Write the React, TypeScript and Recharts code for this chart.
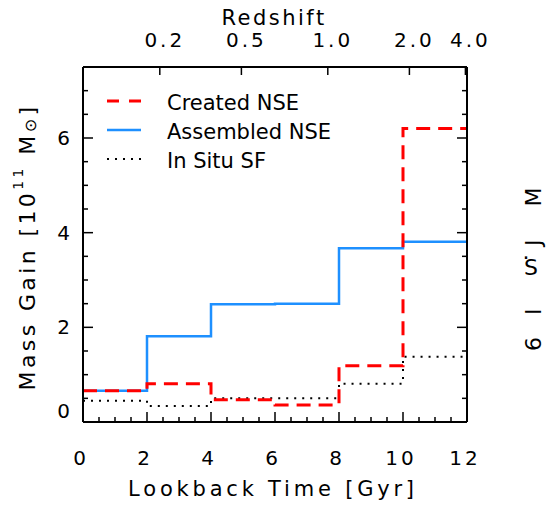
import { LineChart, Line, XAxis, YAxis, Legend, Label } from 'recharts';

// lookback-time bins [Gyr], each value holds until the next bin start
const binStarts = [0, 2, 4, 6, 8, 10];
const binEnd = 12;
const createdNSE = [0.66, 0.81, 0.47, 0.36, 1.19, 6.2];
const assembledNSE = [0.66, 1.81, 2.49, 2.5, 3.67, 3.81];
const inSituSF = [0.45, 0.34, 0.5, 0.5, 0.81, 1.38];

const xTicks = [0, 0.5, 1, 1.5, 2, 2.5, 3, 3.5, 4, 4.5, 5, 5.5, 6, 6.5, 7, 7.5, 8, 8.5, 9, 9.5, 10, 10.5, 11, 11.5, 12];
const yTicks = [0, 0.5, 1, 1.5, 2, 2.5, 3, 3.5, 4, 4.5, 5, 5.5, 6, 6.5, 7, 7.5];
const redshiftLabels = ['0.2', '0.5', '1.0', '2.0', '4.0'];
const redshiftLookback = [2.4, 4.95, 7.65, 10.2, 11.95];

const rows = [...binStarts, binEnd].map((t, i) => {
  const k = Math.min(i, binStarts.length - 1);
  return { t, created: createdNSE[k], assembled: assembledNSE[k], insitu: inSituSF[k] };
});

const FONT = '"DejaVu Sans", sans-serif';

const seriesStyle: Record<string, { color: string; dash?: string; width: number }> = {
  created: { color: '#ff0000', dash: '14 8', width: 3 },
  assembled: { color: '#1e90ff', width: 2.5 },
  insitu: { color: '#000000', dash: '2 6', width: 2 },
};
const legendOrder = ['created', 'assembled', 'insitu'];

const isMajor = (v: number) => Math.abs(v % 2) < 1e-6;

const BottomTick = (props: any) => {
  const { x, y, payload } = props;
  const v = payload.value;
  const major = isMajor(v);
  return (
    <g>
      <line x1={x} x2={x} y1={y} y2={y - (major ? 10 : 5)} stroke="#000" strokeWidth={1.5} />
      {major && (
        <text x={x - 2} y={y + 43} textAnchor="middle" fontFamily={FONT} fontSize={20} letterSpacing={3} fill="#000">
          {v}
        </text>
      )}
    </g>
  );
};

const TopTick = (props: any) => {
  const { x, y, index } = props;
  return (
    <g>
      <line x1={x} x2={x} y1={y} y2={y + 8} stroke="#000" strokeWidth={1.5} />
      <text x={x + 5} y={y - 20} textAnchor="middle" fontFamily={FONT} fontSize={20} letterSpacing={3} fill="#000">
        {redshiftLabels[index]}
      </text>
    </g>
  );
};

const LeftTick = (props: any) => {
  const { x, y, payload } = props;
  const v = payload.value;
  const major = isMajor(v);
  return (
    <g>
      <line x1={x} x2={x + (major ? 10 : 5)} y1={y} y2={y} stroke="#000" strokeWidth={1.5} />
      {major && (
        <text x={x - 13} y={v === 0 ? y - 4 : y + 7} textAnchor="end" fontFamily={FONT} fontSize={20} fill="#000">
          {v}
        </text>
      )}
    </g>
  );
};

const RightTick = (props: any) => {
  const { x, y, payload } = props;
  const major = isMajor(payload.value);
  return <line x1={x} x2={x - (major ? 10 : 5)} y1={y} y2={y} stroke="#000" strokeWidth={1.5} />;
};

const LegendBox = (props: any) => {
  const items = [...(props.payload || [])].sort(
    (a: any, b: any) => legendOrder.indexOf(a.dataKey) - legendOrder.indexOf(b.dataKey)
  );
  return (
    <div style={{ fontFamily: FONT, fontSize: 21, color: '#000' }}>
      {items.map((it: any) => {
        const s = seriesStyle[it.dataKey];
        return (
          <div key={it.dataKey} style={{ display: 'flex', alignItems: 'center', height: 29 }}>
            <svg width={60} height={10} style={{ display: 'block', marginTop: -4 }}>
              <line x1={0} x2={34} y1={5} y2={5} stroke={s.color} strokeWidth={s.width}
                strokeDasharray={it.dataKey === 'created' ? '12 10' : s.dash} />
            </svg>
            <span>{it.value}</span>
          </div>
        );
      })}
    </div>
  );
};

const YTitle = () => {
  const cx = 27;
  const cy = 247;
  return (
    <text x={cx} y={cy} transform={`rotate(-90 ${cx} ${cy})`} textAnchor="middle" dominantBaseline="central"
      fontFamily={FONT} fontSize={22} letterSpacing={3.4} fill="#000">
      Mass Gain [10<tspan dy={-9} fontSize={14}>11</tspan><tspan dy={9}> M</tspan>
      <tspan dy={3} fontSize={16}>⊙</tspan><tspan dy={-3}>]</tspan>
    </text>
  );
};

// stray rotated glyphs at the right edge, one text with per-glyph placement
const SideText = () => (
  <text fontFamily={FONT} fontSize={22} fill="#000"
    x="541 541 522.5 524 541 541" y="206.5 246 259 275 315 351" rotate="-90 -90 0 0 -90 -90">
    MJ.SI6
  </text>
);

export default function App() {
  return (
    <div style={{ position: 'absolute', left: 0, top: 0, background: '#fff' }}>
      <LineChart width={548} height={505} data={rows} margin={{ top: 66, right: 80, bottom: 82, left: 82 }}>
        <XAxis xAxisId="bottom" dataKey="t" type="number" domain={[0, 12]} ticks={xTicks} interval={0}
          height={1} tickSize={0} tickMargin={0} tickLine={false} tick={<BottomTick />}
          axisLine={{ stroke: '#000', strokeWidth: 2 }}>
          <Label content={() => (
            <text x={273} y={496} textAnchor="middle" fontFamily={FONT} fontSize={21} letterSpacing={3.8} fill="#000">
              Lookback Time [Gyr]
            </text>
          )} />
        </XAxis>
        <XAxis xAxisId="top" orientation="top" dataKey="t" type="number" domain={[0, 12]} ticks={redshiftLookback}
          interval={0} height={1} tickSize={0} tickMargin={0} tickLine={false} tick={<TopTick />}
          axisLine={{ stroke: '#000', strokeWidth: 2 }}>
          <Label content={() => (
            <text x={274} y={25} textAnchor="middle" fontFamily={FONT} fontSize={21} letterSpacing={2.5} fill="#000">
              Redshift
            </text>
          )} />
        </XAxis>
        <YAxis yAxisId="left" type="number" domain={[0, 7.5]} ticks={yTicks} interval={0} width={1}
          tickSize={0} tickMargin={0} tickLine={false} tick={<LeftTick />} allowDataOverflow
          axisLine={{ stroke: '#000', strokeWidth: 2 }}>
          <Label content={<YTitle />} />
        </YAxis>
        <YAxis yAxisId="right" orientation="right" type="number" domain={[0, 7.5]} ticks={yTicks} interval={0}
          width={1} tickSize={0} tickMargin={0} tickLine={false} tick={<RightTick />} allowDataOverflow
          axisLine={{ stroke: '#000', strokeWidth: 2 }}>
          <Label content={<SideText />} />
        </YAxis>
        <Legend layout="vertical" align="center" verticalAlign="middle" content={<LegendBox />}
          wrapperStyle={{ left: 107, top: 88, width: 260, height: 90 }} />
        <Line xAxisId="bottom" yAxisId="left" type="stepAfter" dataKey="assembled" name="Assembled NSE"
          stroke={seriesStyle.assembled.color} strokeWidth={seriesStyle.assembled.width} dot={false}
          isAnimationActive={false} />
        <Line xAxisId="bottom" yAxisId="left" type="stepAfter" dataKey="insitu" name="In Situ SF"
          stroke={seriesStyle.insitu.color} strokeWidth={seriesStyle.insitu.width}
          strokeDasharray={seriesStyle.insitu.dash} dot={false} isAnimationActive={false} />
        <Line xAxisId="bottom" yAxisId="left" type="stepAfter" dataKey="created" name="Created NSE"
          stroke={seriesStyle.created.color} strokeWidth={seriesStyle.created.width}
          strokeDasharray={seriesStyle.created.dash} dot={false} isAnimationActive={false} />
      </LineChart>
    </div>
  );
}
